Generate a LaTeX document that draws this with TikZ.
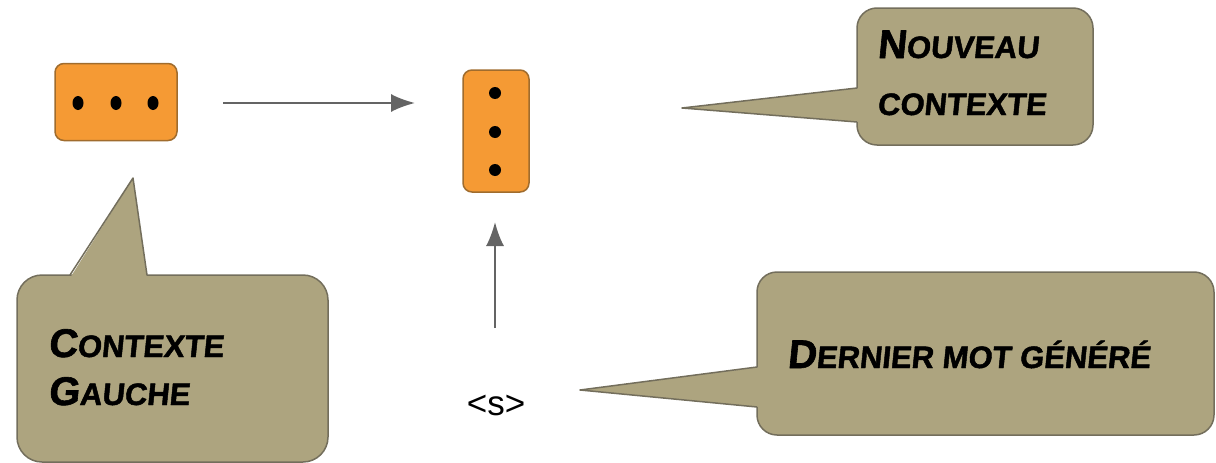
\documentclass[tikz,border=0pt]{standalone}
\usepackage{fontspec}
\usetikzlibrary{arrows.meta}
\newfontfamily\handfont[FakeSlant=0.1,FakeBold=1.5]{Liberation Sans Bold}
\newfontfamily\plainfont{Liberation Sans}
\newcommand\capletter[1]{{\fontsize{40}{40}\selectfont #1}}
\definecolor{dotorange}{RGB}{245,154,52}
\definecolor{dotedge}{RGB}{160,108,45}
\definecolor{bubblefill}{RGB}{173,164,127}
\definecolor{bubbleedge}{RGB}{115,110,92}
\definecolor{arrowgray}{RGB}{100,100,100}
\tikzset{
  dotbox/.style={draw=dotedge,line width=1.5pt,fill=dotorange,rounded corners=9pt},
  bubble/.style={draw=bubbleedge,line width=1.5pt,fill=bubblefill,rounded corners=20pt},
  bubbletext/.style={anchor=base west,inner sep=0pt,font=\handfont\fontsize{31}{31}\selectfont}
}
\begin{document}
\begin{tikzpicture}[x=1pt,y=-1pt]
    \useasboundingbox (0,0) rectangle (1216,463);
    \node[dotbox,minimum width=122pt,minimum height=77pt] (ctx) at (116,102) {};
    \node[dotbox,minimum width=66pt,minimum height=122pt] (newctx) at (496,131) {};
    \foreach \x in {78,116,153}
      \fill (\x,103) ellipse (5.5pt and 7pt);
    \foreach \y in {93,132,170}
      \fill (495,\y) ellipse (6pt and 6pt);
    \node[inner sep=0pt,anchor=base,font=\plainfont\fontsize{35}{35}\selectfont] (tok) at (496,415) {<s>};
    \coordinate (r1) at (223,103);
    \coordinate (r2) at (415,103);
    \coordinate (u1) at (495,328);
    \coordinate (u2) at (495,222);
    \begin{scope}[-{Latex[length=24pt,width=18pt]},draw=arrowgray,line width=2pt]
      \draw (r1) -- (r2);
      \draw (u1) -- (u2);
    \end{scope}
    % speech bubbles
    \draw[bubble] (857,8) rectangle (1093,145);
    \fill[bubblefill] (860,88) -- (682,108) -- (860,122) -- cycle;
    \draw[bubbleedge,line width=1.5pt,line join=round] (857,88) -- (682,108) -- (857,122);
    \draw[bubble,rounded corners=25pt] (17,275) rectangle (328,462);
    \fill[bubblefill] (70,278) -- (133,178) -- (147,278) -- cycle;
    \draw[bubbleedge,line width=1.5pt,line join=round] (70,275) -- (133,178) -- (147,275);
    \draw[bubble] (757,272) rectangle (1214,435);
    \fill[bubblefill] (760,367) -- (580,390) -- (760,407) -- cycle;
    \draw[bubbleedge,line width=1.5pt,line join=round] (757,367) -- (580,390) -- (757,407);
    \node[bubbletext] (nouveau) at (877,58) {\capletter{N}OUVEAU};
    \node[bubbletext] (contexte) at (877,115) {CONTEXTE};
    \node[bubbletext] (gauche1) at (48,357) {\capletter{C}ONTEXTE};
    \node[bubbletext] (gauche2) at (48,405) {\capletter{G}AUCHE};
    \node[bubbletext] (dernier) at (787,368) {\capletter{D}ERNIER MOT GÉNÉRÉ};
\end{tikzpicture}
\end{document}
